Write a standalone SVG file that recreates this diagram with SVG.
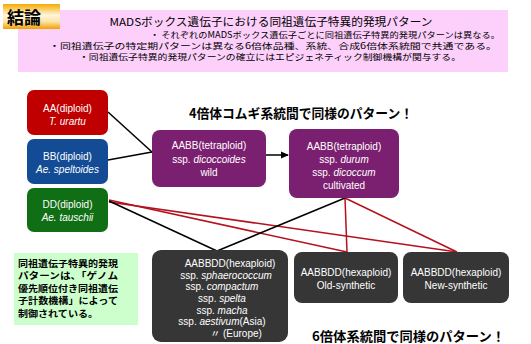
<svg xmlns="http://www.w3.org/2000/svg" width="531" height="344" viewBox="0 0 531 344">
<defs>
<linearGradient id="og" x1="0" y1="0" x2="0" y2="1">
<stop offset="0" stop-color="#f5aa00"/>
<stop offset="0.45" stop-color="#fff6dc"/>
<stop offset="0.7" stop-color="#fde4a8"/>
<stop offset="1" stop-color="#f2a000"/>
</linearGradient>
<marker id="ah" markerWidth="8" markerHeight="8" refX="7" refY="4" orient="auto" markerUnits="userSpaceOnUse">
<path d="M0,0.5 L8,4 L0,7.5 z" fill="#000"/>
</marker>
<style>
.jp{font-family:"Noto Sans CJK JP","Liberation Sans",sans-serif;fill:#000}
.hd{font-family:"Noto Sans CJK JP",sans-serif;font-weight:bold;font-size:13px;fill:#000}
.bt{font-family:"Liberation Sans","Noto Sans CJK JP",sans-serif;font-size:10px;fill:#fff;text-anchor:middle}
.it{font-style:italic}
.nt{font-size:9px;font-weight:bold}
.bl{font-size:8.5px}
.k{stroke:#000;stroke-width:1.5;fill:none}
.r{stroke:#b3121e;stroke-width:1.5;fill:none}
</style>
</defs>
<rect width="531" height="344" fill="#fff"/>
<g id="header">
<rect x="18" y="10" width="490" height="62" fill="#fdd0fb"/>
<rect x="3" y="4" width="57" height="25" fill="url(#og)"/>
<text x="7" y="24" class="jp" font-size="17" font-weight="bold">結論</text>
<text x="271" y="26" class="jp" font-size="11" text-anchor="middle" textLength="323" lengthAdjust="spacingAndGlyphs">MADSボックス遺伝子における同祖遺伝子特異的発現パターン</text>
<text x="150" y="38" class="jp bl" textLength="350" lengthAdjust="spacingAndGlyphs">・ それぞれのMADSボックス遺伝子ごとに同祖遺伝子特異的発現パターンは異なる。</text>
<text x="49" y="49" class="jp bl" textLength="448" lengthAdjust="spacingAndGlyphs">・同祖遺伝子の特定期パターンは異なる6倍体品種、系統、合成6倍体系統間で共通である。</text>
<text x="79" y="60" class="jp bl" textLength="382" lengthAdjust="spacingAndGlyphs">・同祖遺伝子特異的発現パターンの確立にはエピジェネティック制御機構が関与する。</text>
</g>
<g id="connectors">
<line class="k" x1="108" y1="112" x2="152" y2="152"/>
<line class="k" x1="108" y1="160" x2="152" y2="152"/>
<line class="k" x1="266" y1="155" x2="288" y2="155" marker-end="url(#ah)"/>
<line class="r" x1="109" y1="200" x2="347" y2="252"/>
<line class="r" x1="109" y1="202" x2="457" y2="252"/>
<line class="r" x1="345" y1="198" x2="347" y2="252"/>
<line class="r" x1="345" y1="198" x2="457" y2="252"/>
<line class="k" x1="109" y1="201" x2="217" y2="251"/>
<line class="k" x1="345" y1="198" x2="217" y2="251"/>
</g>
<g id="AA">
<rect x="27" y="90" width="81" height="45" rx="7" fill="#c00000"/>
<text x="67.5" y="112" class="bt">AA(diploid)</text>
<text x="67.5" y="125" class="bt it">T. urartu</text>
</g>
<g id="BB">
<rect x="27" y="139" width="81" height="45" rx="7" fill="#134c94"/>
<text x="67.5" y="160" class="bt">BB(diploid)</text>
<text x="67.5" y="173" class="bt it">Ae. speltoides</text>
</g>
<g id="DD">
<rect x="27" y="188" width="81" height="44" rx="7" fill="#106e14"/>
<text x="67.5" y="208" class="bt">DD(diploid)</text>
<text x="67.5" y="221" class="bt it">Ae. tauschii</text>
</g>
<g id="AABB_wild">
<rect x="152" y="130" width="114" height="57" rx="8" fill="#7b1f70"/>
<text x="209" y="149" class="bt">AABB(tetraploid)</text>
<text x="209" y="163" class="bt">ssp. <tspan class="it">dicoccoides</tspan></text>
<text x="209" y="176" class="bt">wild</text>
</g>
<g id="AABB_cultivated">
<rect x="289" y="129" width="110" height="69" rx="8" fill="#7b1f70"/>
<text x="344" y="150" class="bt">AABB(tetraploid)</text>
<text x="344" y="163" class="bt">ssp. <tspan class="it">durum</tspan></text>
<text x="344" y="176" class="bt">ssp. <tspan class="it">dicoccum</tspan></text>
<text x="344" y="189" class="bt">cultivated</text>
</g>
<g id="AABBDD_hexaploid">
<rect x="152" y="250" width="136" height="92" rx="9" fill="#363636"/>
<text x="230" y="267" class="bt">AABBDD(hexaploid)</text>
<text x="226" y="279" class="bt">ssp. <tspan class="it">sphaerococcum</tspan></text>
<text x="222" y="290" class="bt">ssp. <tspan class="it">compactum</tspan></text>
<text x="222" y="302" class="bt">ssp. <tspan class="it">spelta</tspan></text>
<text x="222" y="314" class="bt">ssp. <tspan class="it">macha</tspan></text>
<text x="222" y="325" class="bt">ssp. <tspan class="it">aestivum</tspan>(Asia)</text>
<text x="236" y="337" class="bt">〃    (Europe)</text>
</g>
<g id="AABBDD_old">
<rect x="294" y="252" width="104" height="51" rx="8" fill="#363636"/>
<text x="346" y="276" class="bt">AABBDD(hexaploid)</text>
<text x="346" y="289" class="bt">Old-synthetic</text>
</g>
<g id="AABBDD_new">
<rect x="403" y="252" width="106" height="51" rx="8" fill="#363636"/>
<text x="456" y="276" class="bt">AABBDD(hexaploid)</text>
<text x="456" y="289" class="bt">New-synthetic</text>
</g>
<g id="note">
<rect x="14" y="253" width="124" height="72" fill="#ccffcc"/>
<text class="jp nt" x="18" y="266.5" textLength="100" lengthAdjust="spacingAndGlyphs">同祖遺伝子特異的発現</text>
<text class="jp nt" x="18" y="279" textLength="100" lengthAdjust="spacingAndGlyphs">パターンは、「ゲノム</text>
<text class="jp nt" x="18" y="291.5" textLength="100" lengthAdjust="spacingAndGlyphs">優先順位付き同祖遺伝</text>
<text class="jp nt" x="18" y="304" textLength="100" lengthAdjust="spacingAndGlyphs">子計数機構」によって</text>
<text class="jp nt" x="18" y="316.5" textLength="80" lengthAdjust="spacingAndGlyphs">制御されている。</text>
</g>
<g id="headline_tetra">
<text x="189" y="118" class="hd" textLength="224" lengthAdjust="spacingAndGlyphs">4倍体コムギ系統間で同様のパターン！</text>
</g>
<g id="headline_hexa">
<text x="312" y="341" class="hd" textLength="193" lengthAdjust="spacingAndGlyphs">6倍体系統間で同様のパターン！</text>
</g>
</svg>
